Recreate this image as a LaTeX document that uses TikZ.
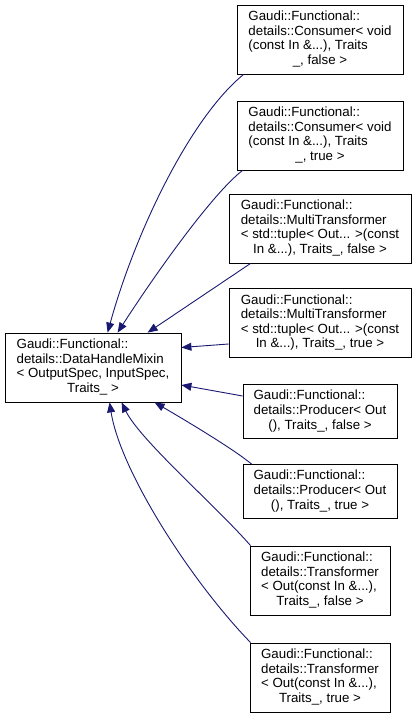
\documentclass[tikz,border=0pt]{standalone}
\usepackage{fontspec}
\setmainfont{Liberation Sans}
\usetikzlibrary{arrows.meta}
\definecolor{arrowblue}{HTML}{191970}
\begin{document}
\begin{tikzpicture}[x=1pt,y=-1pt,
  cls/.style={draw=black, line width=0.8pt, fill=white, inner sep=0pt,
    font=\fontsize{13.3}{14.6}\selectfont, align=center},
  tall/.style={minimum height=69pt},
  short/.style={minimum height=54pt},
  inh/.style={draw=arrowblue, line width=0.9pt, -{Triangle[length=10pt,width=8pt]}}]
\useasboundingbox (0,0) rectangle (416,715);

\node[cls, tall, minimum width=176pt] (base) at (93,367.5)
  {\begin{tabular}{@{}l@{}}Gaudi::Functional::\\details::DataHandleMixin\\< OutputSpec, InputSpec,\\\multicolumn{1}{@{}c@{}}{Traits\_ >}\end{tabular}};

\node[cls, tall, minimum width=166pt] (c1) at (320,39.5)
  {\begin{tabular}{@{}l@{}}Gaudi::Functional::\\details::Consumer< void\\(const In \&...), Traits\\\multicolumn{1}{@{}c@{}}{\_, false >}\end{tabular}};
\node[cls, tall, minimum width=166pt] (c2) at (320,135.5)
  {\begin{tabular}{@{}l@{}}Gaudi::Functional::\\details::Consumer< void\\(const In \&...), Traits\\\multicolumn{1}{@{}c@{}}{\_, true >}\end{tabular}};
\node[cls, tall, minimum width=182pt] (m1) at (320,228.5)
  {\begin{tabular}{@{}l@{}}Gaudi::Functional::\\details::MultiTransformer\\< std::tuple< Out... >(const\\\multicolumn{1}{@{}c@{}}{In \&...), Traits\_, false >}\end{tabular}};
\node[cls, tall, minimum width=182pt] (m2) at (320,323)
  {\begin{tabular}{@{}l@{}}Gaudi::Functional::\\details::MultiTransformer\\< std::tuple< Out... >(const\\\multicolumn{1}{@{}c@{}}{In \&...), Traits\_, true >}\end{tabular}};
\node[cls, short, minimum width=154pt] (p1) at (320,411.5)
  {\begin{tabular}{@{}l@{}}Gaudi::Functional::\\details::Producer< Out\\\multicolumn{1}{@{}c@{}}{(), Traits\_, false >}\end{tabular}};
\node[cls, short, minimum width=154pt] (p2) at (320,491.5)
  {\begin{tabular}{@{}l@{}}Gaudi::Functional::\\details::Producer< Out\\\multicolumn{1}{@{}c@{}}{(), Traits\_, true >}\end{tabular}};
\node[cls, tall, minimum width=140pt] (t1) at (320,580.5)
  {\begin{tabular}{@{}l@{}}Gaudi::Functional::\\details::Transformer\\< Out(const In \&...),\\\multicolumn{1}{@{}c@{}}{Traits\_, false >}\end{tabular}};
\node[cls, tall, minimum width=140pt] (t2) at (320,677.5)
  {\begin{tabular}{@{}l@{}}Gaudi::Functional::\\details::Transformer\\< Out(const In \&...),\\\multicolumn{1}{@{}c@{}}{Traits\_, true >}\end{tabular}};

\draw[inh] ([xshift=7pt]c1.south west) .. controls (190,118) and (135,233) .. ([xshift=103pt]base.north west);
\draw[inh] ([xshift=6pt]c2.south west) .. controls (213,193) and (156,273) .. ([xshift=113pt]base.north west);
\draw[inh] ([xshift=22pt]m1.south west) -- ([xshift=143pt]base.north west);
\draw[inh] ([yshift=-21pt]m2.west) -- ([yshift=20pt]base.east);
\draw[inh] ([yshift=15.5pt]p1.west) -- ([yshift=-17.5pt]base.east);
\draw[inh] ([xshift=9pt]p2.north west) .. controls (235,450) and (185,420) .. ([xshift=150pt]base.south west);
\draw[inh] ([xshift=1pt]t1.north west) .. controls (215,505) and (140,440) .. ([xshift=117pt]base.south west);
\draw[inh] ([xshift=1pt]t2.north west) .. controls (190,580) and (120,470) .. ([xshift=105pt]base.south west);
\end{tikzpicture}
\end{document}
